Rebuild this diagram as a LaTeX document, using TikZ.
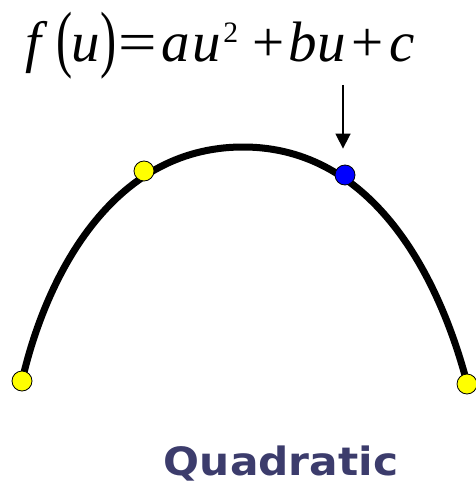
\documentclass[tikz,border=0pt]{standalone}
\usepackage{fontspec}
\setmainfont{Liberation Serif}
\newfontfamily\labelfont{DejaVu Sans}
\usepackage{xcolor}
\usepackage{graphicx}
\usepackage{tikz}
\usetikzlibrary{arrows.meta,positioning}
\definecolor{titleNavy}{RGB}{60,60,108}
\definecolor{dotYellow}{RGB}{255,255,0}
\definecolor{dotBlue}{RGB}{0,0,255}
% one glyph in a box of given width
\newcommand\gl[2]{\makebox[#1pt][c]{#2}}
\newcommand\tallparen[1]{\raisebox{-1.5pt}{\scalebox{0.85}[1.3]{#1}}}

\begin{document}
\begin{tikzpicture}[x=1pt,y=-1pt,
  ctrl/.style={circle,draw=black,line width=0.8pt,inner sep=0pt,minimum size=20pt},
  curve/.style={line width=7pt,line cap=round},
  arrow/.style={-{Triangle[length=15pt,width=15pt]},line width=1.6pt}
]
\useasboundingbox (0,0) rectangle (475,484);
% the quadratic segment
\draw[curve] (22,381) .. controls (45,280) and (110,147) .. (243,147)
                      .. controls (375,147) and (440,280) .. (467,383);
% control points
\node[ctrl,fill=dotYellow] (p0) at (22,381) {};
\node[ctrl,fill=dotYellow] (p1) at (144,171) {};
\node[ctrl,fill=dotBlue] (p2) at (345,175) {};
\node[ctrl,fill=dotYellow] (p3) at (467,384) {};
% formula and pointer
\node[anchor=base west,inner sep=0pt,font=\fontsize{57}{60}\selectfont] (eq) at (16,62)
  {\gl{41}{\textit{f}}\gl{14}{\tallparen{(}}\gl{29}{\textit{u}}\gl{17}{\tallparen{)}}%
   \gl{42}{\scalebox{1.2}[1]{=}}\gl{34}{\textit{a}}\gl{28}{\textit{u}}%
   \gl{19}{\raisebox{19pt}{\scalebox{0.52}{2}}}\hspace{13pt}%
   \gl{30}{+}\hspace{5pt}\gl{30}{\textit{b}}\gl{27}{\textit{u}}\hspace{7pt}%
   \gl{31}{+}\hspace{7pt}\gl{23}{\textit{c}}};
\coordinate (tail) at (343,85);
\draw[arrow,shorten >=16pt] (tail) -- (tail |- p2.north);
% caption
\node[anchor=base,inner sep=0pt,text=titleNavy,font=\labelfont\bfseries\fontsize{39}{40}\selectfont] (cap) at (281,475) {\scalebox{1.085}[1]{Quadratic}};
\end{tikzpicture}
\end{document}
